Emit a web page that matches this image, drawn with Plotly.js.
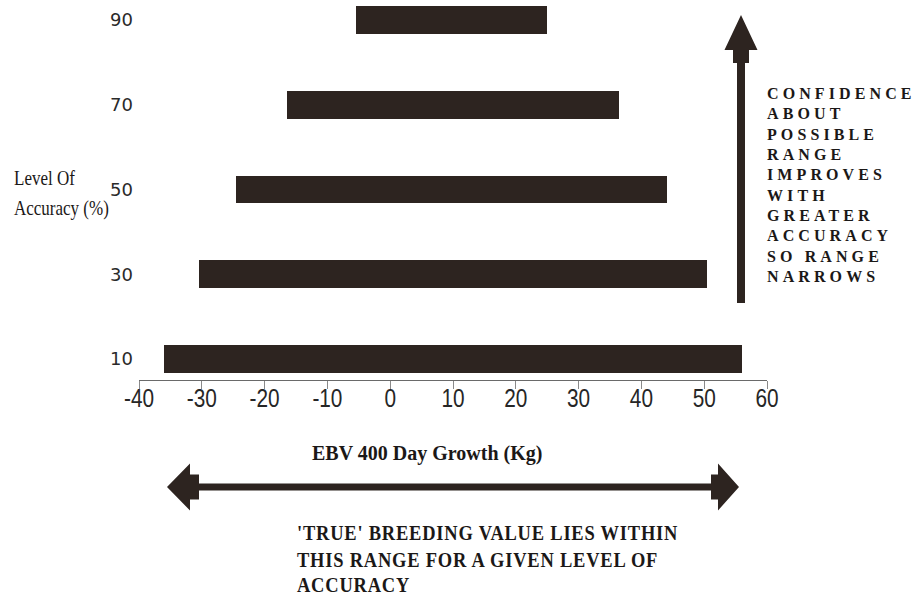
<!DOCTYPE html>
<html>
<head>
<meta charset="utf-8">
<script src="https://cdn.plot.ly/plotly-3.0.1.min.js"></script>
<style>
  html, body { margin: 0; padding: 0; background: #ffffff; }
  #chart { width: 919px; height: 597px; }
</style>
</head>
<body>
<div id="chart"></div>
<script>
// ---- data ----
const accuracyLevels = [10, 30, 50, 70, 90];
const accuracyLabels = ['10', '30', '50', '70', '90'];
const rangeLowKg = [-36, -30.5, -24.5, -16.5, -5.5];
const rangeHighKg = [56, 50.5, 44, 36.5, 25];
const xTickValues = [-40, -30, -20, -10, 0, 10, 20, 30, 40, 50, 60];
const xTickLabels = ['-40', '-30', '-20', '-10', '0', '10', '20', '30', '40', '50', '60'];
const xAxisTitle = 'EBV 400 Day Growth (Kg)';
const yAxisTitleLines = ['Level Of', 'Accuracy (%)'];
const sideNoteLines = ['CONFIDENCE', 'ABOUT', 'POSSIBLE', 'RANGE', 'IMPROVES', 'WITH', 'GREATER', 'ACCURACY', 'SO RANGE', 'NARROWS'];
const bottomNoteLines = ["'TRUE' BREEDING VALUE LIES WITHIN", 'THIS RANGE FOR A GIVEN LEVEL OF', 'ACCURACY'];

// ---- layout geometry (pixels) ----
const W = 919, H = 597;
const PL = 139, PR = 767, PT = 0, PB = 380;
const X = px => (px - PL) / (PR - PL);
const Y = py => (PB - py) / (PB - PT);
const ink = '#2d2420';
const textInk = '#1b1817';
const serif = '"Liberation Serif", "Times New Roman", serif';

function pathPx(pts) {
  return pts.map((p, i) => (i ? 'L' : 'M') + X(p[0]).toFixed(5) + ',' + Y(p[1]).toFixed(5)).join(' ') + ' Z';
}

// double-headed horizontal arrow
const hy = 487;
const hArrow = pathPx([
  [167, hy], [190, hy - 23.5], [190, hy - 12.5], [199, hy - 12.5], [199, hy - 3.5],
  [711, hy - 3.5], [711, hy - 12.5], [718, hy - 12.5], [718, hy - 23.5], [739, hy],
  [718, hy + 23.5], [718, hy + 12.5], [711, hy + 12.5], [711, hy + 3.5],
  [199, hy + 3.5], [199, hy + 12.5], [190, hy + 12.5], [190, hy + 23.5]
]);
// upward arrow
const vx = 741;
const vArrow = pathPx([
  [vx, 15], [vx + 16.5, 50], [vx + 8, 50], [vx + 8, 63], [vx + 4, 63], [vx + 4, 303],
  [vx - 4, 303], [vx - 4, 63], [vx - 8, 63], [vx - 8, 50], [vx - 16.5, 50]
]);

const trace = {
  type: 'bar',
  orientation: 'h',
  y: accuracyLevels,
  base: rangeLowKg,
  x: rangeHighKg.map((h, i) => h - rangeLowKg[i]),
  width: 6.6,
  marker: { color: ink, line: { width: 0 } },
  hoverinfo: 'skip'
};

const annotations = [];
const annStyle = []; // per annotation: {sx, ls}
function addText(text, pxLeft, pyMid, font, sx, ls) {
  annotations.push({
    text: text, xref: 'paper', yref: 'paper', x: X(pxLeft), y: Y(pyMid),
    xanchor: 'left', yanchor: 'middle', align: 'left', showarrow: false, font: font
  });
  annStyle.push({ sx: sx || 1, ls: ls || 0 });
}

addText(yAxisTitleLines[0], 12, 178, { family: serif, size: 21, color: textInk }, 0.81, 0);
addText(yAxisTitleLines[1], 12, 208, { family: serif, size: 21, color: textInk }, 0.81, 0);
addText('<b>' + xAxisTitle + '</b>', 310, 453, { family: serif, size: 20, color: textInk }, 1, 0);
bottomNoteLines.forEach((t, i) => {
  addText('<b>' + t + '</b>', 295, [533, 559.5, 585][i], { family: serif, size: 21, color: textInk }, 0.88, 0.9);
});
sideNoteLines.forEach((t, i) => {
  addText('<b>' + t + '</b>', 765, 93.5 + i * 20.35, { family: serif, size: 16, color: textInk }, 1, 4.1);
});

const layout = {
  width: W, height: H,
  margin: { l: PL, r: W - PR, t: PT, b: H - PB, pad: 0 },
  paper_bgcolor: '#ffffff', plot_bgcolor: '#ffffff',
  showlegend: false, bargap: 0,
  xaxis: {
    range: [-40, 60], tickvals: xTickValues, ticktext: xTickLabels,
    showgrid: false, zeroline: false, showline: true, linecolor: '#6a6a6a', linewidth: 1,
    ticks: 'outside', ticklen: 8, tickwidth: 1, tickcolor: '#8a8a8a',
    ticklabelstandoff: -13,
    tickfont: { family: '"Liberation Sans", Arial, sans-serif', size: 26, color: '#262626' },
    fixedrange: true
  },
  yaxis: {
    range: [5.04, 94.72], tickvals: accuracyLevels, ticktext: accuracyLabels,
    showgrid: false, zeroline: false, showline: false, ticks: '',
    ticklabelstandoff: 5,
    tickfont: { family: '"DejaVu Sans", sans-serif', size: 18, color: '#2a2a2a' },
    fixedrange: true
  },
  shapes: [
    { type: 'path', xref: 'paper', yref: 'paper', path: hArrow, fillcolor: ink, line: { width: 0 }, layer: 'above' },
    { type: 'path', xref: 'paper', yref: 'paper', path: vArrow, fillcolor: ink, line: { width: 0 }, layer: 'above' }
  ],
  annotations: annotations
};

function squeeze(el, sx) {
  const bb = el.getBBox();
  const c = bb.x + bb.width / 2;
  const prev = el.getAttribute('transform') || '';
  el.setAttribute('transform', prev + ' translate(' + c + ',0) scale(' + sx + ',1) translate(' + (-c) + ',0)');
}

Plotly.newPlot('chart', [trace], layout, { displayModeBar: false, staticPlot: true }).then(() => {
  document.querySelectorAll('#chart g.annotation').forEach(g => {
    const idx = parseInt(g.getAttribute('data-index'), 10);
    const st = annStyle[idx];
    if (!st) return;
    const txt = g.querySelector('text.annotation-text');
    if (!txt) return;
    if (st.ls) txt.style.letterSpacing = st.ls + 'px';
    if (st.sx !== 1) {
      const bb = txt.getBBox();
      const left = bb.x;
      const prev = txt.getAttribute('transform') || '';
      txt.setAttribute('transform', prev + ' translate(' + left + ',0) scale(' + st.sx + ',1) translate(' + (-left) + ',0)');
    }
  });
  document.querySelectorAll('#chart g.xtick text').forEach(t => squeeze(t, 0.8));
});
</script>
</body>
</html>
